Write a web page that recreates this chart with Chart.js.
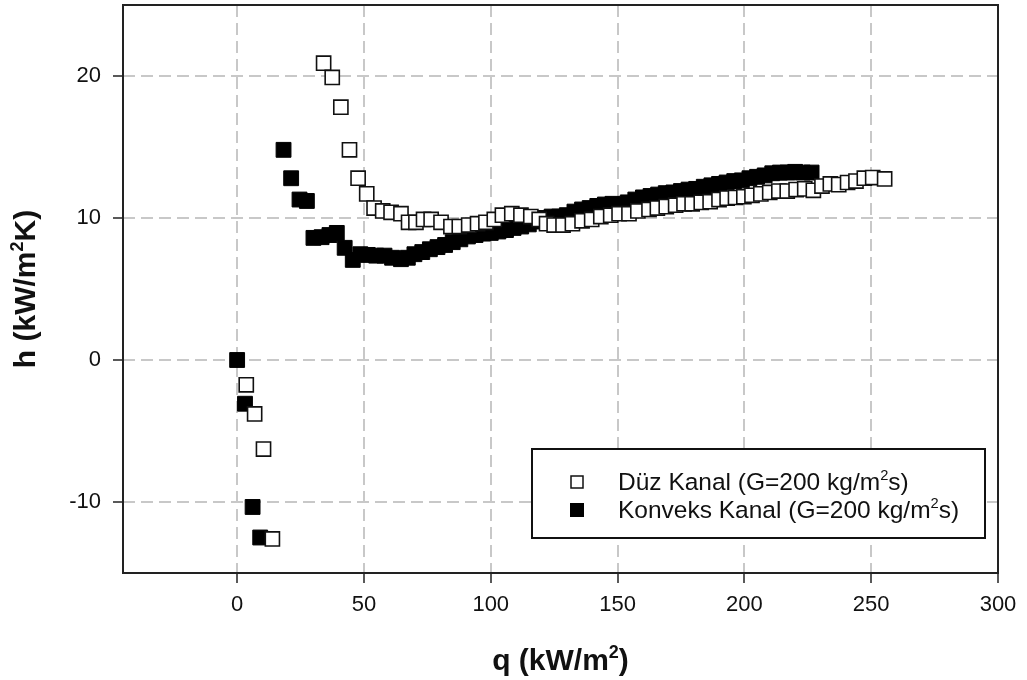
<!DOCTYPE html>
<html lang="tr">
<head>
    <meta charset="UTF-8">
    <title>h - q</title>
    <style>
        html, body { margin: 0; padding: 0; background: #fff; overflow: hidden; }
        .chart-box { width: 1027px; height: 680px; }
    </style>
</head>
<body>
    <div class="chart-box">
        <canvas id="mychart" width="1027" height="680"></canvas>
    </div>

    <script src="https://cdn.jsdelivr.net/npm/chart.js@4.4.1/dist/chart.umd.min.js"></script>
    <script>
        // Düz Kanal (acik kare)
        const duzQ = [3.6, 6.9, 10.4, 13.9,
            34.1, 37.5, 40.9, 44.3, 47.7, 51.1, 54.0, 57.4, 60.7, 64.6, 67.6, 70.5, 73.5, 76.5, 80.4,
            84.3, 87.6, 91.3, 94.8, 98.1, 101.4, 104.6, 108.3, 111.9, 115.8, 119.1, 122.0, 125.0,
            128.5, 132.2, 136.0, 139.8, 143.4, 147.3, 150.6, 154.5, 158.0, 162.4, 165.7, 169.2,
            172.9, 176.2, 179.4, 183.0, 186.5, 190.0, 193.2, 196.5, 199.8, 203.0, 206.5, 210.0,
            213.6, 216.9, 220.4, 223.8, 227.2, 230.6, 233.9, 237.2, 240.7, 244.0, 247.3, 250.6, 255.3];
        const duzH = [-1.75, -3.8, -6.27, -12.6,
            20.9, 19.9, 17.8, 14.8, 12.8, 11.7, 10.7, 10.5, 10.4, 10.3, 9.7, 9.7, 9.9, 9.9, 9.7,
            9.4, 9.4, 9.5, 9.6, 9.7, 9.9, 10.2, 10.3, 10.2, 10.1, 9.9, 9.6, 9.5,
            9.5, 9.6, 9.8, 9.9, 10.1, 10.2, 10.3, 10.3, 10.5, 10.6, 10.7, 10.8,
            10.9, 11.0, 11.0, 11.1, 11.15, 11.3, 11.4, 11.45, 11.5, 11.6, 11.7, 11.8,
            11.9, 11.9, 12.0, 12.05, 11.95, 12.25, 12.4, 12.35, 12.5, 12.6, 12.8, 12.85, 12.75];

        // Konveks Kanal (dolu kare)
        const konveksQ = [0, 3.1, 6.1, 9.1,
            18.3, 21.3, 24.6, 27.5, 30.1, 33.3, 36.4, 39.3, 42.4, 45.6, 48.6, 51.5, 54.8, 58.1,
            61.1, 64.6, 67.3, 69.9, 73, 76, 79, 82, 85, 88, 91, 94, 97, 100, 103, 106, 109, 112,
            115, 118, 121, 124, 127, 130, 133, 136, 139, 142, 145, 148, 151, 154, 157, 160, 163,
            166, 169, 172, 175, 178, 181, 184, 187, 190, 193, 196, 199, 202, 205, 208, 211, 214,
            217, 220, 223, 226.5];
        const konveksH = [0, -3.08, -10.35, -12.5,
            14.8, 12.8, 11.3, 11.2, 8.6, 8.65, 8.8, 8.95, 7.9, 7.05, 7.45, 7.4, 7.35, 7.35,
            7.2, 7.1, 7.2, 7.45, 7.6, 7.8, 7.95, 8.1, 8.3, 8.5, 8.7, 8.8, 8.9, 8.95, 9.05, 9.15, 9.3, 9.4,
            9.55, 9.75, 10.0, 10.1, 10.1, 10.2, 10.45, 10.6, 10.7, 10.85, 10.95, 11.0, 10.95, 11.1, 11.3, 11.45, 11.55,
            11.65, 11.75, 11.8, 11.9, 12.0, 12.05, 12.2, 12.3, 12.4, 12.5, 12.6, 12.65, 12.8, 12.9, 13.0, 13.15, 13.2,
            13.2, 13.25, 13.2, 13.2];

        const xTicks = [0, 50, 100, 150, 200, 250, 300];
        const yTicks = [-10, 0, 10, 20];
        const legendLabels = ['Düz Kanal (G=200 kg/m', 'Konveks Kanal (G=200 kg/m'];

        const toPoints = (xs, ys) => xs.map((x, i) => ({ x: x, y: ys[i] }));

        // yazi + ust simge (m2) cizen yardimci
        function drawSup(ctx, parts, x, y, size, bold, align) {
            const f = (s) => (bold ? 'bold ' : '') + s + 'px "Liberation Sans", Arial, sans-serif';
            let total = 0;
            for (const p of parts) {
                ctx.font = f(p.sup ? size * 0.6 : size);
                total += ctx.measureText(p.t).width;
            }
            let cx = align === 'center' ? x - total / 2 : x;
            ctx.textBaseline = 'alphabetic';
            ctx.textAlign = 'left';
            for (const p of parts) {
                ctx.font = f(p.sup ? size * 0.6 : size);
                ctx.fillText(p.t, cx, p.sup ? y - size * 0.4 : y);
                cx += ctx.measureText(p.t).width;
            }
        }

        const extras = {
            id: 'extras',
            afterDraw(chart) {
                const ctx = chart.ctx;
                const a = chart.chartArea;
                ctx.save();
                // cerceve
                ctx.strokeStyle = '#222';
                ctx.lineWidth = 2;
                ctx.strokeRect(a.left, a.top, a.right - a.left, a.bottom - a.top);

                // eksen basliklari
                ctx.fillStyle = '#111';
                drawSup(ctx, [{ t: 'q (kW/m' }, { t: '2', sup: true }, { t: ')' }], (a.left + a.right) / 2, 670, 30, true, 'center');
                ctx.save();
                ctx.translate(35, (a.top + a.bottom) / 2);
                ctx.rotate(-Math.PI / 2);
                drawSup(ctx, [{ t: 'h (kW/m' }, { t: '2', sup: true }, { t: 'K)' }], 0, 0, 30, true, 'center');
                ctx.restore();

                // lejant
                ctx.fillStyle = '#fff';
                ctx.fillRect(532, 449, 453, 89);
                ctx.strokeStyle = '#111';
                ctx.lineWidth = 2;
                ctx.strokeRect(532, 449, 453, 89);
                const rows = [482, 510];
                rows.forEach((ry, i) => {
                    if (i === 0) {
                        ctx.fillStyle = '#fff';
                        ctx.fillRect(571, ry - 6, 12, 12);
                        ctx.strokeStyle = '#111';
                        ctx.lineWidth = 1.5;
                        ctx.strokeRect(571, ry - 6, 12, 12);
                    } else {
                        ctx.fillStyle = '#000';
                        ctx.fillRect(570, ry - 7, 14, 14);
                    }
                    ctx.fillStyle = '#111';
                    drawSup(ctx, [{ t: legendLabels[i] }, { t: '2', sup: true }, { t: 's)' }], 618, ry + 8, 24.5, false, 'left');
                });
                ctx.restore();
            }
        };

        const tickFont = { family: '"Liberation Sans", Arial, sans-serif', size: 22 };

        new Chart(document.getElementById('mychart'), {
            type: 'scatter',
            data: {
                datasets: [
                    {
                        label: 'Düz Kanal',
                        data: toPoints(duzQ, duzH),
                        pointStyle: 'rect',
                        pointRadius: 10,
                        borderWidth: 1.6,
                        borderColor: '#111',
                        backgroundColor: '#fff',
                    },
                    {
                        label: 'Konveks Kanal',
                        data: toPoints(konveksQ, konveksH),
                        pointStyle: 'rect',
                        pointRadius: 10.5,
                        borderWidth: 1,
                        borderColor: '#000',
                        backgroundColor: '#000',
                    },
                ],
            },
            options: {
                responsive: false,
                animation: false,
                events: [],
                layout: { autoPadding: false, padding: { left: 0, top: 5, right: 29, bottom: 0 } },
                plugins: { legend: { display: false }, tooltip: { enabled: false } },
                scales: {
                    x: {
                        type: 'linear',
                        min: -45,
                        max: 300,
                        afterBuildTicks: (s) => { s.ticks = xTicks.map(v => ({ value: v })); },
                        afterFit: (s) => { s.height = 107; s.paddingLeft = 0; s.paddingRight = 0; },
                        grid: { color: '#c8c8c8', lineWidth: 2, tickColor: '#222', tickLength: 10, tickWidth: 1.5, tickBorderDash: [] },
                        border: { display: false, dash: [12, 6] },
                        ticks: { color: '#111', font: tickFont, padding: 9, maxRotation: 0, autoSkip: false },
                    },
                    y: {
                        type: 'linear',
                        min: -15,
                        max: 25,
                        afterBuildTicks: (s) => { s.ticks = yTicks.map(v => ({ value: v })); },
                        afterFit: (s) => { s.width = 123; s.paddingTop = 0; s.paddingBottom = 0; },
                        grid: { color: '#c8c8c8', lineWidth: 2, tickColor: '#222', tickLength: 10, tickWidth: 1.5, tickBorderDash: [] },
                        border: { display: false, dash: [12, 6] },
                        ticks: { color: '#111', font: tickFont, padding: 12, autoSkip: false },
                    },
                },
            },
            plugins: [extras],
        });
    </script>
</body>
</html>
